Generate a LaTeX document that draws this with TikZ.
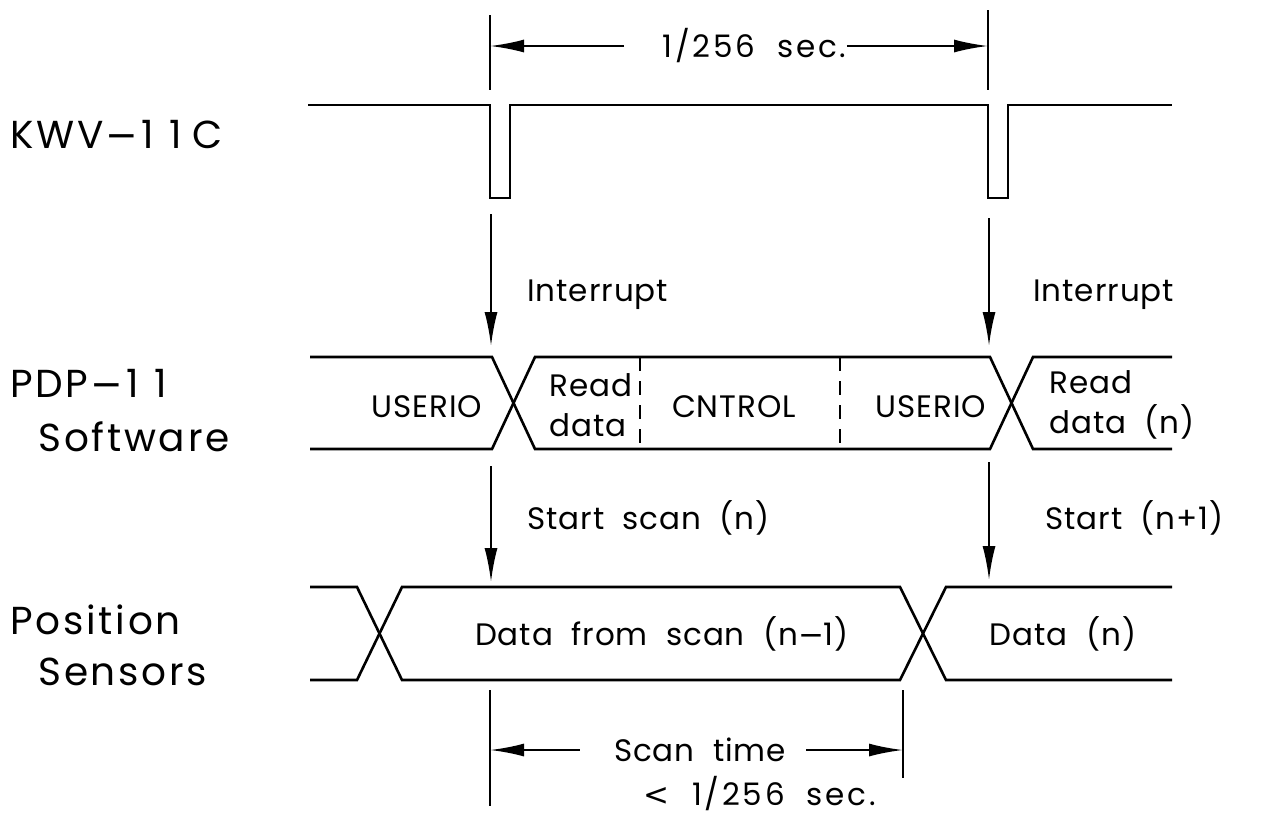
\documentclass[tikz,border=0pt]{standalone}
\usepackage{fontspec}
\setmainfont{Poppins}
\newfontfamily\lblfont[LetterSpace=7]{Poppins}
\newfontfamily\txtfont[LetterSpace=3]{Poppins}
\newfontfamily\numfont[LetterSpace=9]{Poppins}
\newfontfamily\dvfont{DejaVu Sans}
\newcommand{\mns}{{\dvfont −}}
\usetikzlibrary{arrows.meta}
\begin{document}
\begin{tikzpicture}[x=0.5pt,y=-0.5pt,
  sig/.style={line width=1.3pt, line join=miter},
  arr/.style={-{Latex[length=17pt,width=6.5pt]}, line width=1.1pt},
  dim/.style={line width=1.1pt},
  sep/.style={line width=1.1pt, dash pattern=on 7pt off 5pt},
  lbl/.style={font=\lblfont\fontsize{19.5}{27}\selectfont, inner sep=0pt, anchor=west},
  txt/.style={font=\txtfont\fontsize{15.5}{20}\selectfont, inner sep=0pt},
  num/.style={font=\numfont\fontsize{15.5}{20}\selectfont, inner sep=0pt},
]
\useasboundingbox (0,0) rectangle (1267,816);

% ---- left labels
\node[lbl] (kwv) at (10,135) {KWV\kern1pt\mns\kern1.5pt1\kern8pt1\kern5ptC};
\node[lbl] (pdp) at (10,383) {PDP\kern1pt\mns\kern1.5pt1\kern8pt1};
\node[lbl] (soft) at (38,437) {Software};
\node[lbl] (pos) at (10,620) {Position};
\node[lbl] (sens) at (38,672) {Sensors};

% ---- KWV-11C waveform
\draw[sig] (308,105) -- (490,105) -- (490,198) -- (510,198) -- (510,105)
  -- (988,105) -- (988,198) -- (1008,198) -- (1008,105) -- (1172,105);

% ---- top dimension
\coordinate (t1a) at (490,15);  \coordinate (t1b) at (490,90);
\coordinate (t2a) at (988,10);  \coordinate (t2b) at (988,90);
\draw[dim] (t1a) -- (t1b);
\draw[dim] (t2a) -- (t2b);
\coordinate (la) at (490,46); \coordinate (ra) at (988,46);
\node[num, anchor=west] (period) at (662,46) {1/256\ \ sec.};
\draw[arr] ([xshift=-19pt]period.west) -- (la);
\draw[arr] (period.east) -- (ra);

% ---- interrupt arrows
\coordinate (i1a) at (491,214); \coordinate (i1b) at (491,346);
\coordinate (i2a) at (989,218); \coordinate (i2b) at (989,346);
\draw[arr] (i1a) -- (i1b);
\draw[arr] (i2a) -- (i2b);
\node[txt, anchor=west] (int1) at (527,295) {Interrupt};
\node[txt, anchor=west] (int2) at (1033,295) {Interrupt};

% ---- PDP-11 software row
\draw[sig] (310,357) -- (492,357) -- (535,449) -- (990,449) -- (1033,357) -- (1172,357);
\draw[sig] (310,449) -- (492,449) -- (535,357) -- (990,357) -- (1033,449) -- (1172,449);
\draw[sep] (640,357) -- (640,449);
\draw[sep] (840,357) -- (840,449);
\node[txt] (u1) at (427,407) {USERIO};
\node[txt, anchor=west, align=left] (rd1) at (549,405) {Read\\data};
\node[txt] (cn) at (734,407) {CNTROL};
\node[txt] (u2) at (931,407) {USERIO};
\node[txt, anchor=west, align=left] (rd2) at (1049,405) {Read\\data\ \ (n)};

% ---- start arrows
\coordinate (s1a) at (491,466); \coordinate (s1b) at (491,582);
\coordinate (s2a) at (989,462); \coordinate (s2b) at (989,580);
\draw[arr] (s1a) -- (s1b);
\draw[arr] (s2a) -- (s2b);
\node[txt, anchor=west] (st1) at (527,518) {Start\ \ scan\ \ (n)};
\node[txt, anchor=west] (st2) at (1045,518) {Start\ \ (n+1)};

% ---- position sensors row
\draw[sig] (310,587) -- (357,587) -- (402,680) -- (900,680) -- (946,587) -- (1172,587);
\draw[sig] (310,680) -- (357,680) -- (402,587) -- (900,587) -- (946,680) -- (1172,680);
\node[txt] (d1) at (662,634) {Data\ \ from\ \ scan\ \ (n\mns1)};
\node[txt] (d2) at (1063,634) {Data\ \ (n)};

% ---- bottom dimension
\coordinate (b1a) at (490,690); \coordinate (b1b) at (490,806);
\coordinate (b2a) at (903,690); \coordinate (b2b) at (903,778);
\draw[dim] (b1a) -- (b1b);
\draw[dim] (b2a) -- (b2b);
\coordinate (bl) at (490,750); \coordinate (br) at (903,750);
\node[txt] (scan) at (700,750) {Scan\ \ time};
\node[num] (lt) at (760,794) {{\dvfont <}\ \ 1/256\ \ sec.};
\draw[arr] ([xshift=-17pt]scan.west) -- (bl);
\draw[arr] ([xshift=10pt]scan.east) -- (br);
\end{tikzpicture}
\end{document}
